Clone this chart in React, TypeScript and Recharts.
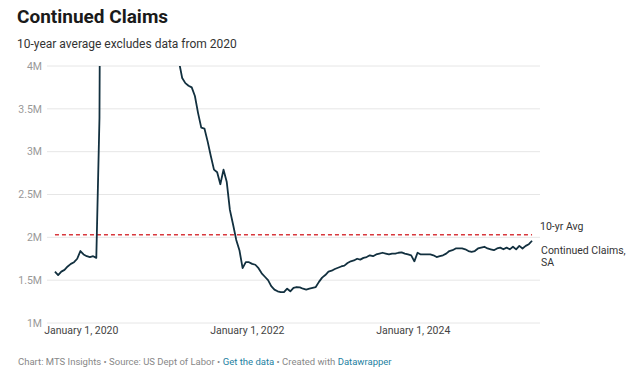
import React from "react";
import { CartesianGrid, Line, LineChart, ReferenceLine, XAxis, YAxis } from "recharts";

// continued claims, SA (millions), one reading every two weeks from START_DATE
const START_DATE = "2019-09-07";
const STEP_DAYS = 14;
const claims = [
  1.6, 1.56, 1.6, 1.62, 1.66, 1.69, 1.71, 1.75, 1.84, 1.8,
  1.78, 1.77, 1.78, 1.76, 3.4, 12.0, 18.0, 22.5, 21.0, 19.5,
  17.5, 16.0, 15.5, 14.0, 12.5, 11.0, 9.0, 7.5, 6.8, 6.3,
  5.6, 5.2, 5.1, 5.0, 4.9, 4.6, 4.4, 4.3, 4.15, 4.05,
  3.86, 3.8, 3.77, 3.75, 3.65, 3.45, 3.28, 3.27, 3.12, 2.95,
  2.79, 2.76, 2.62, 2.79, 2.65, 2.32, 2.15, 1.97, 1.85, 1.64,
  1.71, 1.71, 1.69, 1.68, 1.64, 1.58, 1.54, 1.5, 1.43, 1.39,
  1.37, 1.36, 1.36, 1.4, 1.37, 1.41, 1.42, 1.415, 1.4, 1.39,
  1.4, 1.41, 1.42, 1.48, 1.53, 1.56, 1.6, 1.61, 1.63, 1.645,
  1.66, 1.67, 1.7, 1.72, 1.73, 1.75, 1.74, 1.76, 1.77, 1.79,
  1.78, 1.8, 1.81, 1.82, 1.81, 1.8, 1.81, 1.81, 1.82, 1.825,
  1.81, 1.8, 1.79, 1.72, 1.82, 1.8, 1.8, 1.8, 1.8, 1.79,
  1.77, 1.78, 1.79, 1.81, 1.84, 1.85, 1.87, 1.87, 1.87, 1.86,
  1.84, 1.83, 1.84, 1.87, 1.88, 1.89, 1.87, 1.86, 1.85, 1.87,
  1.88, 1.86, 1.88, 1.86, 1.89, 1.86, 1.9, 1.87, 1.9, 1.92,
  1.96,
];
const TEN_YR_AVG = 2.03;

const yTicks = [1, 1.5, 2, 2.5, 3, 3.5, 4];
const xTickDates = ["2020-01-01", "2022-01-01", "2024-01-01"];
const xTickLabels = ["January 1, 2020", "January 1, 2022", "January 1, 2024"];

const DAY = 86400000;
const t0 = Date.parse(START_DATE);
const data = claims.map((v, i) => ({ t: t0 + i * STEP_DAYS * DAY, claims: v }));
const tEnd = data[data.length - 1].t;
const xTicks = xTickDates.map((d) => Date.parse(d));

const FONT = "Roboto, 'Noto Sans', sans-serif";

export default function App() {
  const last = data.length - 1;

  return (
    <div style={{ position: "fixed", left: 0, top: 0, width: 640, height: 376, background: "#fff", fontFamily: FONT }}>
      <div style={{ position: "absolute", left: 17, top: 6, fontSize: 19, lineHeight: "22px", fontWeight: 700, color: "#1a1a1a" }}>
        Continued Claims
      </div>
      <div style={{ position: "absolute", left: 17, top: 37, fontSize: 12, lineHeight: "14px", color: "#333" }}>
        10-year average excludes data from 2020
      </div>

      <div style={{ position: "absolute", left: 0, top: 0 }}>
        <LineChart width={640} height={350} data={data} margin={{ top: 66, right: 100, left: 0, bottom: 0 }}>
          <CartesianGrid vertical={false} stroke="#e6e6e6" />
          <XAxis
            dataKey="t"
            type="number"
            scale="time"
            domain={[t0 - 35 * DAY, tEnd + 35 * DAY]}
            ticks={xTicks}
            tickFormatter={(v) => xTickLabels[xTicks.indexOf(v)] ?? ""}
            axisLine={false}
            tickLine={false}
            tickSize={0}
            tickMargin={4}
            height={27}
            tick={{ fontSize: 10.5, fill: "#444", fontFamily: FONT }}
          />
          <YAxis
            domain={[1, 4]}
            ticks={yTicks}
            allowDataOverflow
            tickFormatter={(v) => `${v}M`}
            axisLine={false}
            tickLine={false}
            tickSize={0}
            tickMargin={5}
            width={47}
            tick={{ fontSize: 10.5, fill: "#999", fontFamily: FONT }}
          />
          <ReferenceLine
            segment={[{ x: t0, y: TEN_YR_AVG }, { x: tEnd, y: TEN_YR_AVG }]}
            stroke="#d8383d"
            strokeWidth={1.3}
            strokeDasharray="4 3"
            label={(p: any) => {
              const vb = p.viewBox || {};
              return (
                <text x={vb.x + vb.width + 8} y={vb.y - 8} dominantBaseline="central" fontSize={10.5} fill="#333" fontFamily={FONT}>
                  10-yr Avg
                </text>
              );
            }}
          />
          <Line
            dataKey="claims"
            type="linear"
            stroke="#12303f"
            strokeWidth={1.8}
            strokeLinejoin="round"
            dot={false}
            isAnimationActive={false}
            label={(p: any) =>
              p.index === last ? (
                <text key="lbl" x={p.x + 9} y={p.y + 9} fontSize={10.5} fill="#333" fontFamily={FONT} dominantBaseline="central">
                  <tspan x={p.x + 9}>Continued Claims,</tspan>
                  <tspan x={p.x + 9} dy={12.4}>SA</tspan>
                </text>
              ) : (
                <g key={`l${p.index}`} />
              )
            }
          />
        </LineChart>
      </div>

      <div style={{ position: "absolute", left: 18, top: 356, fontSize: 9.5, lineHeight: "12px", color: "#888", whiteSpace: "nowrap" }}>
        Chart: MTS Insights • Source: US Dept of Labor • <span style={{ color: "#1d81a2" }}>Get the data</span> • Created with{" "}
        <span style={{ color: "#1d81a2" }}>Datawrapper</span>
      </div>
    </div>
  );
}
